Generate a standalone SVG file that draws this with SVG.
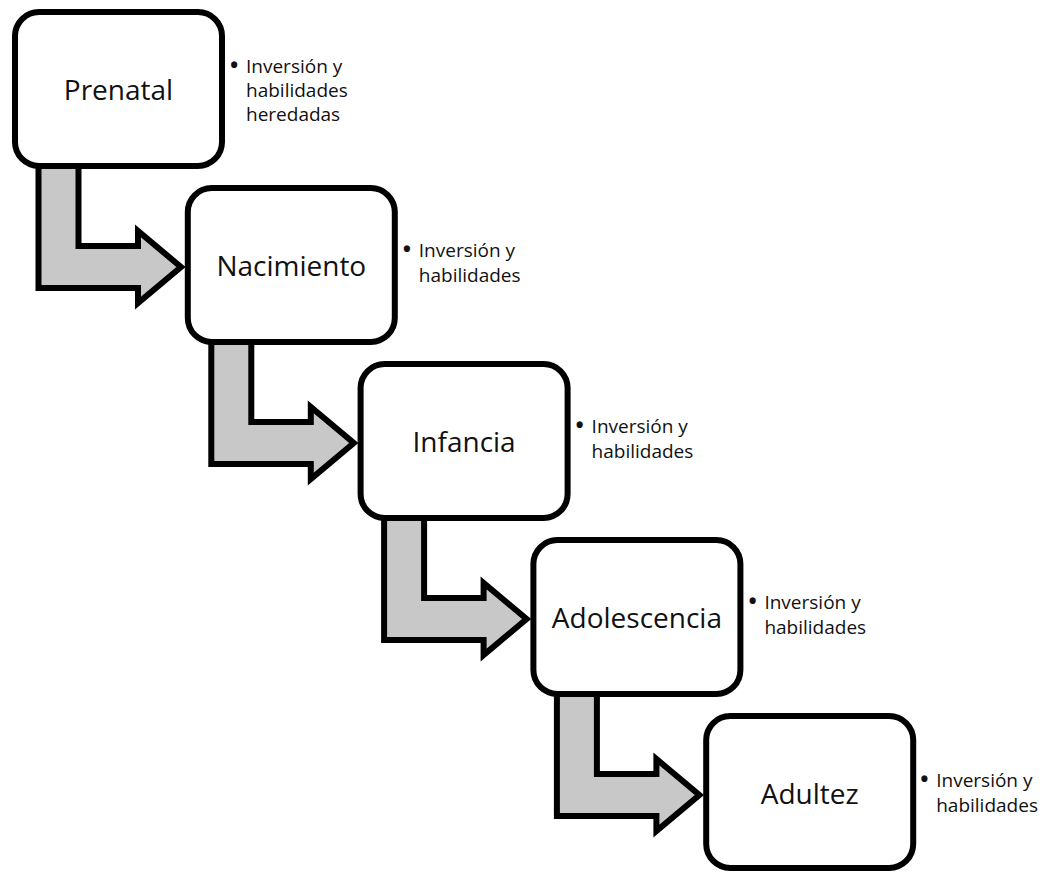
<svg xmlns="http://www.w3.org/2000/svg" width="1044" height="872" viewBox="0 0 1044 872">
  <style>
    .box { fill: #ffffff; stroke: #000000; stroke-width: 6; }
    .arrow { fill: #c8c8c8; stroke: #000000; stroke-width: 6; stroke-linejoin: miter; }
    .label { font-family: "Open Sans", "Liberation Sans", sans-serif; font-size: 28px; fill: #111111; text-anchor: middle; }
    .note { font-family: "Open Sans", "Liberation Sans", sans-serif; font-size: 19px; fill: #111111; }
    .dot { font-family: "Open Sans", "Liberation Sans", sans-serif; font-size: 22px; font-weight: bold; fill: #111111; }
  </style>
  <defs>
    <polygon id="bent" points="38.5,160 78.5,160 78.5,246 138,246 138,231 181,267 138,303 138,288 38.5,288"/>
  </defs>
  <rect width="1044" height="872" fill="#ffffff"/>
  <g id="connectors">
    <use href="#bent" class="arrow" transform="translate(0,0)"/>
    <use href="#bent" class="arrow" transform="translate(172.8,176)"/>
    <use href="#bent" class="arrow" transform="translate(345.6,352)"/>
    <use href="#bent" class="arrow" transform="translate(518.4,528)"/>
  </g>
  <g id="prenatal">
    <rect class="box" x="15" y="12" width="207" height="154" rx="24"/>
    <text class="label" x="118.5" y="100">Prenatal</text>
    <text class="dot" x="230" y="73">•</text>
    <text class="note" x="246" y="73">Inversión y</text>
    <text class="note" x="246" y="97">habilidades</text>
    <text class="note" x="246" y="121">heredadas</text>
  </g>
  <g id="nacimiento">
    <rect class="box" x="187.8" y="188" width="207" height="154" rx="24"/>
    <text class="label" x="291.3" y="276">Nacimiento</text>
    <text class="dot" x="402.8" y="257">•</text>
    <text class="note" x="418.8" y="257">Inversión y</text>
    <text class="note" x="418.8" y="282">habilidades</text>
  </g>
  <g id="infancia">
    <rect class="box" x="360.6" y="364" width="207" height="154" rx="24"/>
    <text class="label" x="464.1" y="452">Infancia</text>
    <text class="dot" x="575.6" y="433">•</text>
    <text class="note" x="591.6" y="433">Inversión y</text>
    <text class="note" x="591.6" y="458">habilidades</text>
  </g>
  <g id="adolescencia">
    <rect class="box" x="533.4" y="540" width="207" height="154" rx="24"/>
    <text class="label" x="636.9" y="628">Adolescencia</text>
    <text class="dot" x="748.4" y="609">•</text>
    <text class="note" x="764.4" y="609">Inversión y</text>
    <text class="note" x="764.4" y="634">habilidades</text>
  </g>
  <g id="adultez">
    <rect class="box" x="706.2" y="716" width="207" height="152" rx="24"/>
    <text class="label" x="809.7" y="804">Adultez</text>
    <text class="dot" x="920.2" y="787">•</text>
    <text class="note" x="936.2" y="787">Inversión y</text>
    <text class="note" x="936.2" y="812">habilidades</text>
  </g>
</svg>
